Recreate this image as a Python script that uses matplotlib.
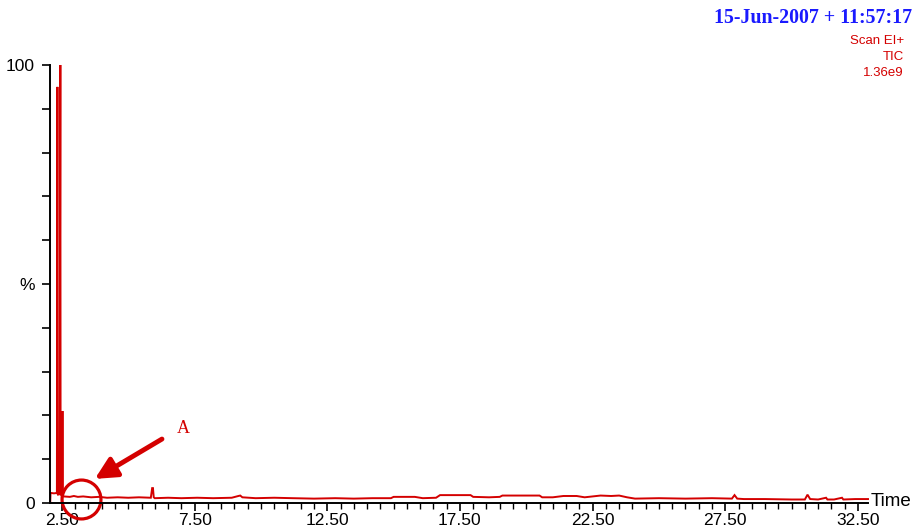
import numpy as np
import matplotlib.pyplot as plt
from matplotlib.ticker import MultipleLocator, FixedLocator

# TIC trace, retention time (min) vs relative abundance (%)
rt = [2.06, 2.07, 2.08, 2.20, 2.31, 2.33, 2.34, 2.35, 2.41, 2.44, 2.45, 2.47,
      2.51, 2.52, 2.53, 2.56, 2.80, 2.95, 3.10, 3.30, 3.60, 3.90, 4.20, 4.60,
      5.00, 5.40, 5.85, 5.90, 5.93, 5.96, 6.00, 6.50, 7.00, 7.60, 8.20, 8.90,
      9.15, 9.22, 9.30, 9.80, 10.50, 11.20, 12.00, 12.80, 13.50, 14.20, 14.90,
      15.00, 15.80, 16.10, 16.60, 16.75, 17.30, 17.90, 18.00, 18.60, 19.00,
      19.10, 19.80, 20.50, 20.60, 21.00, 21.40, 21.90, 22.20, 22.80, 23.20,
      23.50, 23.80, 24.10, 25.00, 26.00, 27.00, 27.75, 27.85, 27.95, 28.20,
      29.00, 30.00, 30.50, 30.60, 30.70, 31.00, 31.30, 31.35, 31.60, 31.90,
      31.95, 32.40, 32.88]
tic = [0.3, 2.3, 2.3, 2.2, 2.3, 95.0, 2.0, 1.9, 2.0, 100.0, 2.0, 1.8,
       1.9, 21.0, 1.6, 1.5, 1.4, 1.6, 1.4, 1.5, 1.3, 1.4, 1.2, 1.3,
       1.2, 1.3, 1.2, 3.4, 3.4, 1.3, 1.1, 1.2, 1.1, 1.2, 1.1, 1.2,
       1.6, 1.7, 1.3, 1.1, 1.2, 1.1, 1.0, 1.1, 1.0, 1.1, 1.1,
       1.4, 1.4, 1.1, 1.2, 1.8, 1.8, 1.8, 1.4, 1.3, 1.4,
       1.7, 1.7, 1.7, 1.3, 1.3, 1.6, 1.6, 1.3, 1.7, 1.6,
       1.7, 1.3, 1.0, 1.1, 1.0, 1.1, 1.0, 1.8, 1.0, 0.9,
       0.9, 0.8, 0.8, 1.9, 0.9, 0.8, 1.2, 0.8, 0.8, 1.2,
       0.8, 0.9, 0.9]

acq_stamp = "15-Jun-2007 + 11:57:17"
trace_info = ["Scan EI+", "TIC", "1.36e9"]
x_major = [2.5, 7.5, 12.5, 17.5, 22.5, 27.5, 32.5]
y_ticks = list(range(0, 101, 10))
y_labels = ["0", "", "", "", "", "%", "", "", "", "", "100"]

red = "#d40000"
plt.rcParams["font.family"] = ["Liberation Sans", "DejaVu Sans"]

fig = plt.figure(figsize=(9.14, 5.27), dpi=100)
ax = fig.add_axes([50 / 914, 24 / 527, 818 / 914, 438 / 527])

ax.plot(rt, tic, color=red, lw=1.4, solid_joinstyle="miter", clip_on=False)

ax.set_xlim(2.05, 32.88)
ax.set_ylim(0, 100)

for side in ("top", "right"):
    ax.spines[side].set_visible(False)
for side in ("left", "bottom"):
    ax.spines[side].set_linewidth(1.4)

ax.xaxis.set_major_locator(FixedLocator(x_major))
ax.xaxis.set_minor_locator(MultipleLocator(0.5))
ax.set_xticklabels([f"{v:.2f}" for v in x_major], fontsize=12.5)
ax.tick_params(axis="x", which="major", direction="out", length=6, width=1.2, pad=1)
ax.tick_params(axis="x", which="minor", direction="out", length=4, width=1.0)

ax.yaxis.set_major_locator(FixedLocator(y_ticks))
ax.set_yticklabels(y_labels, fontsize=12.5)
ax.tick_params(axis="y", direction="out", length=6, width=1.2, pad=5)

# marked region near the solvent front
ax.plot([3.22], [0.9], marker="o", ms=28, mfc="none", mec=red, mew=2.3, clip_on=False)
ax.annotate("", xy=(3.74, 5.5), xytext=(6.27, 14.6),
            arrowprops=dict(arrowstyle="-|>,head_length=1.3,head_width=0.65",
                            color=red, lw=3.5, shrinkA=0, shrinkB=0))
ax.text(7.06, 17.1, "A", color=red, fontsize=13, family="Liberation Serif",
        ha="center", va="center")

fig.text(871 / 914, 1 - 502 / 527, "Time", fontsize=13.5, ha="left", va="center")
fig.text(912 / 914, 1 - 18 / 527, acq_stamp, color="#1a1aff", fontsize=14.3,
         family="Liberation Serif", weight="bold", ha="right", va="center")
for i, line in enumerate(trace_info):
    fig.text(904 / 914, 1 - (41 + 16 * i) / 527, line, color=red,
             fontsize=9.5, ha="right", va="center")

fig.savefig("out.png", dpi=100)
